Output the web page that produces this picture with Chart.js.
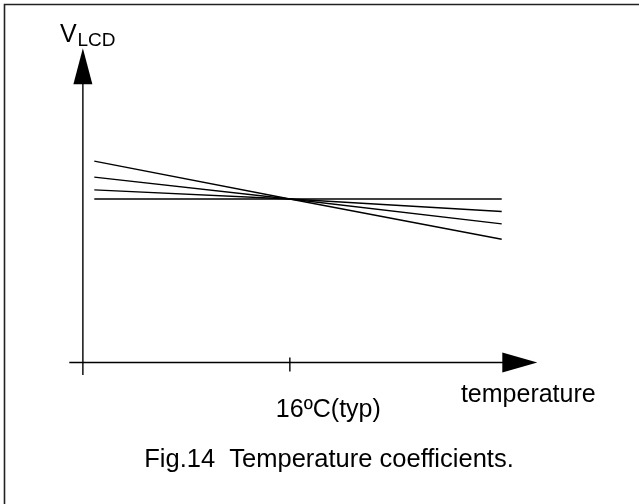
<!DOCTYPE html>
<html>
<head>
<meta charset="utf-8">
<title>Fig.14 Temperature coefficients</title>
<script src="https://cdn.jsdelivr.net/npm/chart.js@4.4.1/dist/chart.umd.min.js"></script>
<style>
    html, body { margin: 0; padding: 0; background: #fff; }
    #wrap { position: relative; width: 639px; height: 504px; }
</style>
</head>
<body>
<div id="wrap"><canvas id="tempChart"></canvas></div>
<script>
// Values (schematic, arbitrary units)
const temps = [-20, 16, 55];            // temperature at the line ends and crossing
const vlcdFlat = [5.0, 5.0, 5.0];       // zero coefficient
const vlcdLow = [5.28, 5.0, 4.62];
const vlcdMid = [5.67, 5.0, 4.24];
const vlcdHigh = [6.16, 5.0, 3.77];
const tickTemps = [16];
const tickLabels = ['16ºC(typ)'];
const xAxisTitle = 'temperature';
const yAxisTitle = ['V', 'LCD'];
const caption = 'Fig.14  Temperature coefficients.';

// axis extents (data units)
const xMin = -24.6, xMax = 61.55, yAxisAt = -22.1;
const yMin = -0.38, yMax = 9.61, xAxisAt = 0;

const series = [vlcdFlat, vlcdLow, vlcdMid, vlcdHigh];

// Helper: build {x, y} points from the arrays
function toPoints(values) {
    return temps.map((t, i) => ({ x: t, y: values[i] }));
}

const FONT = '"Liberation Sans", Arial, sans-serif';

// Draws the frame, the arrowed axes, the tick and all the texts
const figurePlugin = {
    id: 'figure',
    afterDraw(chart) {
        const ctx = chart.ctx;
        const xs = chart.scales.x;
        const ys = chart.scales.y;
        const ox = xs.getPixelForValue(yAxisAt);   // where the V axis stands
        const oy = ys.getPixelForValue(xAxisAt);   // where the temperature axis lies
        const xLeft = xs.getPixelForValue(xMin);
        const xTip = xs.getPixelForValue(xMax);
        const yTip = ys.getPixelForValue(yMax);
        const yBottom = ys.getPixelForValue(yMin);

        ctx.save();

        // frame (only top and left edges show)
        ctx.strokeStyle = '#222';
        ctx.lineWidth = 1.6;
        ctx.beginPath();
        ctx.moveTo(4.5, chart.height);
        ctx.lineTo(4.5, 4.5);
        ctx.lineTo(chart.width, 4.5);
        ctx.stroke();

        // axes
        ctx.strokeStyle = '#000';
        ctx.lineWidth = 1.4;
        ctx.beginPath();
        ctx.moveTo(xLeft, oy);
        ctx.lineTo(xTip - 30, oy);
        ctx.moveTo(ox, yBottom);
        ctx.lineTo(ox, yTip + 30);
        ctx.stroke();

        // arrow heads
        ctx.fillStyle = '#000';
        ctx.beginPath();
        ctx.moveTo(xTip, oy);
        ctx.lineTo(xTip - 35, oy - 10);
        ctx.lineTo(xTip - 35, oy + 10);
        ctx.closePath();
        ctx.fill();
        ctx.beginPath();
        ctx.moveTo(ox, yTip);
        ctx.lineTo(ox - 9.5, yTip + 36);
        ctx.lineTo(ox + 9.5, yTip + 36);
        ctx.closePath();
        ctx.fill();

        // tick marks and their labels
        ctx.font = '25px ' + FONT;
        ctx.textBaseline = 'alphabetic';
        tickTemps.forEach((t, i) => {
            const px = xs.getPixelForValue(t);
            ctx.beginPath();
            ctx.moveTo(px, oy - 5);
            ctx.lineTo(px, oy + 9);
            ctx.stroke();
            ctx.textAlign = 'center';
            ctx.fillText(tickLabels[i], px + 38.5, oy + 54);
        });

        // axis titles
        ctx.textAlign = 'center';
        ctx.fillText(xAxisTitle, xTip - 9, oy + 39);

        ctx.textAlign = 'left';
        ctx.font = '25px ' + FONT;
        ctx.fillText(yAxisTitle[0], ox - 23, yTip - 6);
        const vw = ctx.measureText(yAxisTitle[0]).width;
        ctx.font = '19px ' + FONT;
        ctx.fillText(yAxisTitle[1], ox - 23 + vw + 1, yTip - 2);

        // caption
        ctx.font = '25.5px ' + FONT;
        ctx.textAlign = 'center';
        ctx.fillText(caption, 329, 467);

        ctx.restore();
    }
};

document.addEventListener('DOMContentLoaded', () => {
    const canvas = document.getElementById('tempChart');

    new Chart(canvas.getContext('2d'), {
        type: 'scatter',
        data: {
            datasets: series.map((values, i) => ({
                label: 'coefficient ' + i,
                data: toPoints(values),
                showLine: true,
                borderColor: '#000',
                borderWidth: 1.4,
                pointRadius: 0,
                tension: 0
            }))
        },
        options: {
            responsive: true,
            maintainAspectRatio: false,
            animation: false,
            layout: {
                padding: { left: 69.3, right: 101.7, top: 48.3, bottom: 129 }
            },
            scales: {
                x: { type: 'linear', min: xMin, max: xMax, display: false },
                y: { type: 'linear', min: yMin, max: yMax, display: false }
            },
            plugins: {
                legend: { display: false },
                tooltip: { enabled: false },
                title: { display: false }
            }
        },
        plugins: [figurePlugin]
    });
});
</script>
</body>
</html>
